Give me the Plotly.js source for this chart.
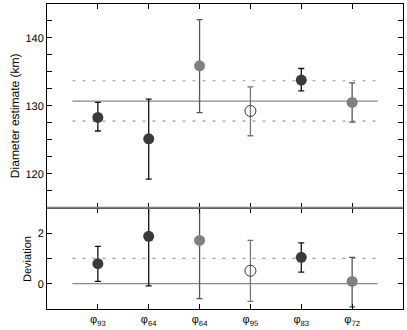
<!DOCTYPE html>
<html><head><meta charset="utf-8">
<script src="https://cdn.plot.ly/plotly-3.0.1.min.js"></script>
<style>html,body{margin:0;padding:0;background:#fff}#chart{width:407px;height:330px}
#chart text{-webkit-font-smoothing:antialiased;font-smooth:never;text-rendering:geometricPrecision}</style>
</head><body><div id="chart"></div>
<script>
// categories (x positions 0..5)
const catIndex = [0, 1, 2, 3, 4, 5];
const catLabels = ['φ<sub>93</sub>', 'φ<sub>64</sub>', 'φ<sub>64</sub>', 'φ<sub>95</sub>', 'φ<sub>83</sub>', 'φ<sub>72</sub>'];
// style group per point: 'dark', 'gray', 'open'
const pointStyle = ['dark', 'dark', 'gray', 'open', 'dark', 'gray'];

// top panel: diameter estimate (km)
const diameter = [128.3, 125.15, 135.9, 129.25, 133.8, 130.5];
const diamUpper = [130.5, 131.0, 142.7, 132.8, 135.5, 133.4];
const diamLower = [126.3, 119.2, 129.0, 125.6, 132.2, 127.6];

// bottom panel: deviation
const deviation = [0.79, 1.87, 1.71, 0.51, 1.04, 0.09];
const devUpper = [1.47, 3.8, 3.8, 1.71, 1.61, 1.04];
const devLower = [0.09, -0.09, -0.59, -0.70, 0.46, -0.92];

// reference lines
const meanDiameter = 130.7;
const bandDiameter = [127.75, 133.7];
const devZero = 0;
const devOne = 1;
const refSpan = [-0.5, 5.5];

const styles = {
  dark: {marker: {color: '#3a3a3a', size: 11, symbol: 'circle'}, err: '#111111'},
  gray: {marker: {color: '#808080', size: 11, symbol: 'circle'}, err: '#555555'},
  open: {marker: {color: '#333333', size: 11, symbol: 'circle-open', line: {width: 1, color: '#333333'}}, err: '#777777'}
};

const traces = [];
function refLine(y, xa, ya, dash, color) {
  traces.push({x: refSpan, y: [y, y], xaxis: xa, yaxis: ya, mode: 'lines',
    line: {color: color, width: 1.2, dash: dash}, hoverinfo: 'skip', showlegend: false});
}
refLine(meanDiameter, 'x', 'y', 'solid', '#8a8a8a');
refLine(bandDiameter[0], 'x', 'y', '3px,7px', '#9a9a9a');
refLine(bandDiameter[1], 'x', 'y', '3px,7px', '#9a9a9a');
refLine(devZero, 'x2', 'y2', 'solid', '#8a8a8a');
refLine(devOne, 'x2', 'y2', '3px,7px', '#9a9a9a');

catIndex.forEach((xi, i) => {
  const s = styles[pointStyle[i]];
  traces.push({x: [xi], y: [diameter[i]], xaxis: 'x', yaxis: 'y', mode: 'markers', marker: s.marker,
    error_y: {type: 'data', symmetric: false, array: [diamUpper[i] - diameter[i]], arrayminus: [diameter[i] - diamLower[i]],
      color: s.err, thickness: 1.3, width: 3}, showlegend: false});
  traces.push({x: [xi], y: [deviation[i]], xaxis: 'x2', yaxis: 'y2', mode: 'markers', marker: s.marker,
    error_y: {type: 'data', symmetric: false, array: [devUpper[i] - deviation[i]], arrayminus: [deviation[i] - devLower[i]],
      color: s.err, thickness: 1.3, width: 3}, showlegend: false});
});

const split = 0.332;
const FAM = 'Liberation Sans, Arial, sans-serif';
const axFont = {family: FAM, size: 11, color: '#000000'};
const layout = {
  width: 407, height: 330,
  margin: {l: 47, r: 4, t: 4, b: 21},
  paper_bgcolor: '#fff', plot_bgcolor: '#fff',
  font: axFont,
  showlegend: false,
  xaxis: {domain: [0, 1], anchor: 'y', range: [-1, 6], tickvals: catIndex, showticklabels: false,
    ticks: 'inside', ticklen: 5, tickcolor: '#000', showline: true, linecolor: '#000', linewidth: 1, mirror: 'ticks',
    showgrid: false, zeroline: false},
  yaxis: {domain: [split, 1], anchor: 'x', range: [115, 145], tickvals: [117.5, 120, 122.5, 125, 127.5, 130, 132.5, 135, 137.5, 140, 142.5],
    ticktext: ['', '120', '', '', '', '130', '', '', '', '140', ''],
    ticks: 'inside', ticklen: 5, tickcolor: '#000', showline: true, linecolor: '#000', linewidth: 1, mirror: 'ticks',
    showgrid: false, zeroline: false, tickfont: axFont},
  xaxis2: {domain: [0, 1], anchor: 'y2', range: [-1, 6], tickvals: catIndex, ticktext: catLabels,
    ticks: 'inside', ticklen: 5, tickcolor: '#000', showline: true, linecolor: '#000', linewidth: 1, mirror: 'ticks',
    showgrid: false, zeroline: false, tickfont: axFont},
  yaxis2: {domain: [0, split], anchor: 'x2', range: [-1, 3], tickvals: [0, 1, 2], ticktext: ['0', '', '2'],
    ticks: 'inside', ticklen: 5, tickcolor: '#000', showline: true, linecolor: '#000', linewidth: 1, mirror: 'ticks',
    showgrid: false, zeroline: false, tickfont: axFont},
  shapes: [{type: 'line', xref: 'paper', yref: 'paper', x0: 0, x1: 1, y0: split, y1: split,
    line: {color: '#808080', width: 2}}],
  annotations: [
    {text: 'Diameter estimate (km)', xref: 'paper', yref: 'paper', x: -0.0913, y: 0.634, xanchor: 'center', yanchor: 'middle',
      textangle: -90, showarrow: false, font: {family: FAM, size: 12, color: '#000000'}},
    {text: 'Deviation', xref: 'paper', yref: 'paper', x: -0.0562, y: 0.164, xanchor: 'center', yanchor: 'middle',
      textangle: -90, showarrow: false, font: {family: FAM, size: 11, color: '#000000'}}
  ]
};
Plotly.newPlot('chart', traces, layout, {displayModeBar: false, staticPlot: true});
</script>
</body></html>
